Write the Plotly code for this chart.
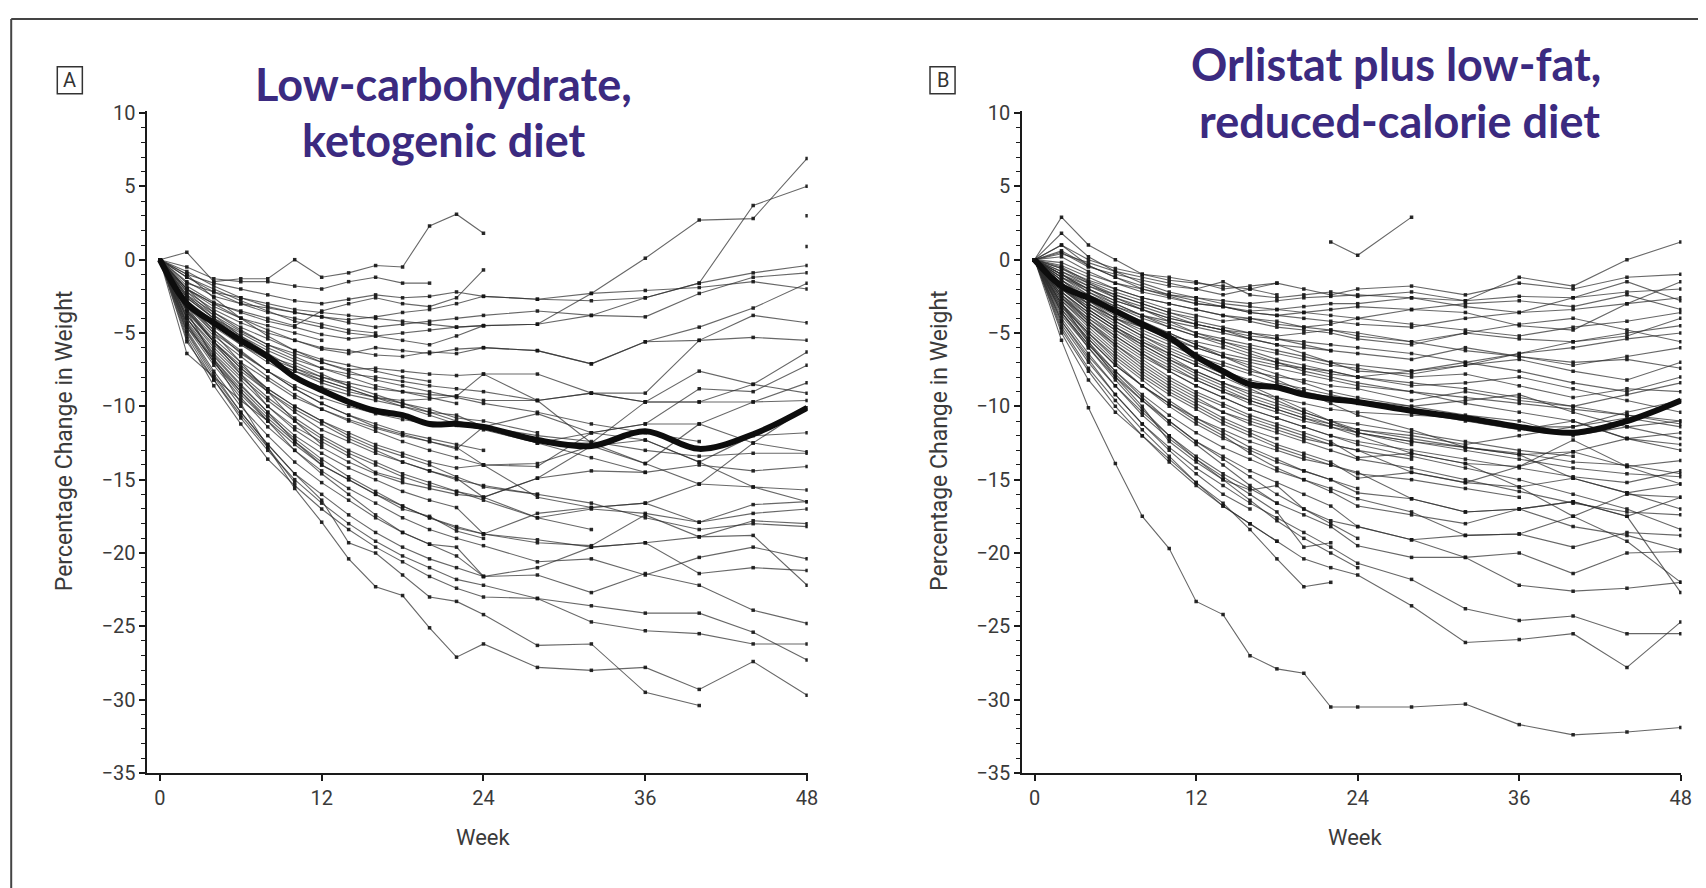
import plotly.graph_objects as go

# ---------------- data ----------------
weeks = [0, 2, 4, 6, 8, 10, 12, 14, 16, 18, 20, 22, 24, 28, 32, 36, 40, 44, 48]
x_ticks = [0, 12, 24, 36, 48]
y_ticks = [10, 5, 0, -5, -10, -15, -20, -25, -30, -35]

keto_mean = [0, -3.0, -4.3, -5.5, -6.6, -8.0, -8.9, -9.7, -10.3, -10.6, -11.2, -11.2, -11.4,
             -12.3, -12.7, -11.7, -12.9, -11.9, -10.1]
orli_mean = [0, -1.8, -2.6, -3.5, -4.4, -5.3, -6.6, -7.6, -8.5, -8.7, -9.2, -9.5, -9.7,
             -10.3, -10.8, -11.4, -11.8, -11.0, -9.6]

N = None
keto_subjects = [
    [0, -1.2, -2.0, -2.8, -3.5, -4.2, -4.6, -5.0, -5.2, -5.5, -5.8, -5.2, -4.5, -4.4, -2.3, 0.1, 2.7, 2.8, 6.9],
    [0, -0.8, -1.8, -2.6, -3.2, -3.6, -3.9, -4.3, -4.6, -4.4, -4.2, -4.0, -3.8, -3.5, -3.8, -2.6, -1.6, 3.7, 5.0],
    [0, -1.0, -1.6, -2.0, -2.4, -2.8, -3.0, -2.7, -2.4, -2.6, -2.5, -2.2, -2.5, -2.7, -2.8, -2.6, -1.6, -0.9, -0.4],
    [0, -1.8, -2.9, -3.6, -4.2, -4.6, -5.1, -5.4, -5.2, -5.0, -4.8, -4.6, -4.5, -4.4, -3.8, -3.9, -2.3, -1.2, -0.9],
    [0, -2.2, -3.4, -4.3, -5.0, -5.5, -6.1, -6.4, -6.0, -6.2, -6.4, -6.1, -6.0, -6.2, -7.1, -5.6, -4.6, -3.3, -1.6],
    [0, -1.5, -2.5, -3.0, -3.3, -3.6, -3.9, -4.1, -3.9, -3.6, -3.4, -3.0, -2.5, -2.7, -2.3, -2.1, -1.9, -1.5, -2.0],
    [0, -2.5, -3.8, -4.9, -5.8, -6.4, -7.0, -7.5, -7.4, -7.6, -7.8, -7.9, -7.8, -7.8, -9.1, -9.1, -5.5, -3.8, -4.3],
    [0, -2.0, -3.2, -4.0, -4.8, -5.5, -6.0, -6.2, -6.5, -6.6, -6.3, -6.4, -6.0, -6.2, -7.1, -5.6, -5.5, -5.3, -5.5],
    [0, -2.8, -4.2, -5.5, -6.8, -7.6, -8.4, -9.0, -9.4, -9.6, -9.5, -9.3, -9.6, -9.6, -9.1, -9.7, -7.6, -8.5, -6.3],
    [0, -3.0, -4.6, -5.8, -7.0, -8.0, -8.7, -9.2, -9.6, -10.0, -10.4, -10.6, -11.4, -10.5, -11.8, -11.2, -8.8, -9.0, -7.2],
    [0, -2.6, -4.0, -5.0, -6.0, -6.8, -7.4, -7.8, -8.0, -8.3, -8.6, -8.8, -9.0, -9.6, -9.1, -9.7, -9.7, -9.7, -8.4],
    [0, -3.2, -5.0, -6.3, -7.6, -8.6, -9.4, -10.0, -10.5, -10.9, -11.2, -11.3, -11.4, -12.5, -12.5, -9.7, -9.7, -8.5, -9.1],
    [0, -3.5, -5.4, -7.0, -8.2, -9.4, -10.2, -10.9, -11.5, -12.0, -12.4, -12.8, -14.0, -14.1, -11.8, -11.2, -11.2, -9.7, -9.6],
    [0, -2.9, -4.5, -5.6, -6.7, -7.4, -8.0, -8.4, -8.8, -9.0, -9.2, -9.3, -7.8, -9.6, -12.5, -13.9, -11.2, -12.5, -10.1],
    [0, -3.0, -4.8, -6.2, -7.6, -8.8, -9.8, -10.6, -11.4, -11.9, -12.4, -12.9, -11.4, -12.5, -11.8, -12.3, -13.8, -12.0, -11.8],
    [0, -3.4, -5.2, -6.6, -8.0, -9.2, -10.2, -11.0, -11.7, -12.4, -13.0, -13.5, -14.0, -13.9, -12.7, -13.9, -15.3, -12.5, -13.1],
    [0, -3.8, -5.8, -7.6, -9.0, -10.4, -11.6, -12.4, -13.2, -13.8, -14.4, -14.9, -16.2, -14.9, -14.4, -14.5, -14.0, -14.4, -14.1],
    [0, -3.6, -5.6, -7.2, -8.8, -10.0, -11.0, -11.8, -12.6, -13.2, -13.8, -14.2, -14.0, -16.2, -16.9, -16.6, -15.3, -15.5, -15.7],
    [0, -4.0, -6.2, -8.0, -9.6, -11.0, -12.2, -13.2, -14.0, -14.8, -15.4, -15.8, -16.2, -17.6, -17.0, -17.3, -17.9, -16.7, -16.5],
    [0, -4.2, -6.6, -8.6, -10.4, -12.0, -13.2, -14.2, -15.0, -15.8, -16.4, -16.9, -18.7, -17.3, -16.9, -16.6, -17.9, -17.3, -17.0],
    [0, -4.4, -7.0, -9.2, -11.0, -12.6, -14.0, -15.0, -16.0, -16.8, -17.6, -18.2, -18.7, -19.1, -19.6, -19.3, -18.9, -17.8, -18.0],
    [0, -4.6, -7.2, -9.4, -11.4, -13.0, -14.4, -15.6, -16.6, -17.6, -18.4, -19.0, -19.5, -20.6, -20.4, -21.5, -20.3, -19.6, -20.4],
    [0, -4.8, -7.6, -10.0, -12.0, -13.8, -15.2, -16.4, -17.6, -18.6, -19.4, -20.2, -21.6, -21.0, -19.6, -19.3, -21.4, -21.0, -21.2],
    [0, -4.3, -6.8, -8.8, -10.6, -12.2, -13.6, -14.8, -15.8, -16.8, -17.6, -18.3, -18.7, -19.3, -19.5, -17.4, -18.9, -18.8, -22.2],
    [0, -5.0, -8.0, -10.4, -12.6, -14.6, -16.0, -17.4, -18.6, -19.6, -20.4, -21.0, -21.6, -21.5, -22.7, -21.4, -22.2, -23.9, -24.8],
    [0, -5.2, -8.2, -10.8, -13.0, -15.0, -16.6, -18.0, -19.2, -20.2, -21.0, -21.8, -22.2, -23.1, -24.7, -25.3, -25.5, -26.2, -26.2],
    [0, -5.4, -8.6, -11.2, -13.6, -15.4, -17.0, -18.4, -19.6, -20.6, -21.6, -22.4, -23.0, -23.1, -23.6, -24.1, -24.1, -25.4, -27.3],
    [0, -3.5, -6.8, -9.8, -12.8, -15.6, -17.9, -20.4, -22.3, -22.9, -25.1, -27.1, -26.2, -27.8, -28.0, -27.8, -29.3, -27.4, -29.7],
    [0, -4.9, -7.8, -10.4, -12.6, -14.6, -16.4, -19.3, -20.0, -21.5, -23.0, -23.3, -24.2, -26.3, -26.2, -29.5, -30.4],
    [0, -4.0, -6.4, -8.2, -10.0, -11.6, -12.8, -13.8, -14.6, -15.2, -15.6, -16.0, -16.2, -14.9, -12.7, -12.3, -13.8, -15.5, -16.5],
    [0, -2.4, -4.0, -5.2, -6.2, -7.0, -7.8, -8.6, -9.2, -9.8, -10.4, -11.0, -11.4, -12.0, -12.4, -13.0, -13.4, -13.2, -13.2],
    [0, -3.4, -5.6, -7.4, -9.0, -10.2, -11.2, -12.2, -13.0, -13.8, -14.4, -15.0, -15.4, -16.0, -16.6, -17.6, -18.4, -18.0, -18.2],
    [0, 0.5, -1.5, -1.3, -1.3, 0.0, -1.2, -0.9, -0.4, -0.5, 2.3, 3.1, 1.8],
    [0, -0.5, -1.3, -1.5, -1.5, -1.8, -2.0, -1.5, -1.2, -1.6, -1.6, N, N, N, N, N, N, N, 3.0],
    [0, -2.0, -3.0, -3.5, -4.0, -4.5, -3.5, -3.0, -2.6, -3.0, -3.2, -2.6, -0.7, N, N, N, N, N, 0.9],
    [0, -2.6, -4.0, -5.4, -6.6, -7.2, -8.0, -8.6],
    [0, -3.0, -5.0, -7.0, -9.0, -11.0, -12.6],
    [0, -4.0, -6.5, -8.5, -10.4, -12.4, -14.0, -15.0, -16.0, -17.0, -17.5, -18.5, -19.0],
    [0, -4.6, -6.8, -9.0, -11.0, -13.0, -14.6, -16.0, -17.4, -18.6, -19.4, -19.6, -21.6],
    [0, -2.0, -3.0, -4.0, -4.5, -5.0, -5.5],
    [0, -3.5, -5.6, -7.4, -8.8, -10.0, -11.0, -12.0, -12.8, -13.4, -14.0, -14.8, -15.5, -16.0],
    [0, -1.6, -2.2, -2.6, -3.0, -3.4, -3.6, -3.8, -4.0, -4.2, -4.4, -4.6, -4.5],
    [0, -2.4, -3.6, -4.6, -5.4, -6.2, -6.8, -7.2, -7.6, -8.0, -8.3],
    [0, -3.2, -5.6, -7.8, -10.0, -11.4, -12.4, -13.4, -14.5, -15.0],
    [0, -2.8, -4.4, -5.8, -6.8, -7.6, -8.2, -8.8, -9.4, -10.0, -10.6, -11.2, -11.6, -12.5, -13.5, -14.5],
    [0, -1.2, -2.2, -3.0, -3.6, -4.0, -4.4, -4.8, -5.0],
    [0, -2.0, -3.6, -4.8, -5.8, -6.6, -7.4, -8.0, -8.6, -9.0, -9.4, -9.8],
    [0, -3.0, -4.8, -6.4, -7.6, -8.8, -9.8, -10.6, -11.2, -11.8, -12.2, -12.6, -13.0],
    [0, -4.4, -7.0, -9.0, -10.8, -12.4, -13.8],
    [0, -5.6, -8.2, -10.6, -12.8, -15.2],
    [0, -3.8, -6.0, -7.8, -9.4, -10.8, -12.0, -13.0, -13.8, -14.6, -15.2, -15.8, -16.4, -17.6, -18.4],
    [0, -2.2, -3.8, -5.2, -6.4, -7.4, -8.2, -8.8, -9.4, -9.8, -10.2, -10.8, -11.0, -11.8],
    [0, -6.4, -8.0, -9.6, -11.0],
    [0, -1.0, -2.6, -4.0, -5.2, -6.2, -7.0, -7.6, -8.2, -8.6, -9.0, -9.4, -9.8, -10.4, -11.2, -11.8, -12.4],
]

orli_subjects = [
    [0, 0.5, -0.5, -1.0, -1.4, -1.8, -2.0, -1.5, -2.4, -2.6, -2.4, -2.2, -2.5, -2.2, -2.8, -1.2, -1.8, 0.0, 1.2],
    [0, 2.9, 1.0, 0.0, -1.0, -1.2, -1.5, -2.0, -1.8, -1.6, N, 1.2, 0.3, 2.9],
    [0, 1.8, 0.2, -0.8, -1.6, -2.2, -2.6, -2.8, -3.0, -2.8, -2.6, -2.5, -2.4, -2.6, -2.8, -2.5, -2.6, -2.2, -2.0],
    [0, 1.0, -0.4, -1.2, -2.0, -2.5, -3.0, -3.2, -3.5, -3.4, -3.2, -3.0, -3.0, -2.6, -3.2, -3.6, -2.6, -1.5, -2.8],
    [0, -0.5, -1.5, -2.2, -2.8, -3.4, -3.8, -4.2, -4.0, -4.2, -4.6, -4.4, -4.0, -3.4, -3.6, -4.5, -4.8, -3.0, -1.5],
    [0, -1.0, -2.0, -2.8, -3.4, -4.0, -4.4, -4.8, -5.0, -5.2, -5.0, -4.8, -5.2, -5.6, -5.0, -5.4, -5.6, -5.0, -4.5],
    [0, -1.4, -2.4, -3.2, -3.8, -4.2, -4.6, -5.0, -5.4, -5.8, -6.0, -6.2, -6.4, -6.8, -6.0, -6.6, -7.2, -6.6, -6.0],
    [0, -0.8, -1.8, -2.6, -3.2, -3.8, -4.4, -4.8, -5.4, -5.8, -6.4, -7.0, -7.6, -7.8, -7.2, -6.8, -7.6, -8.2, -7.0],
    [0, -1.8, -3.0, -4.0, -4.8, -5.6, -6.4, -7.0, -7.6, -8.0, -8.2, -8.6, -8.8, -9.6, -9.0, -9.6, -10.0, -9.2, -8.4],
    [0, -2.0, -3.4, -4.6, -5.6, -6.6, -7.6, -8.4, -9.0, -9.4, -9.8, -10.2, -10.4, -10.6, -10.8, -11.4, -11.4, -10.4, -9.6],
    [0, -1.6, -2.6, -3.6, -4.4, -5.2, -6.0, -6.6, -7.2, -7.8, -8.4, -9.0, -9.4, -10.0, -10.6, -11.0, -12.0, -11.4, -11.0],
    [0, -2.4, -3.8, -5.0, -6.2, -7.2, -8.2, -9.0, -9.8, -10.4, -11.0, -11.4, -11.8, -12.4, -12.8, -13.3, -13.1, -12.2, -11.8],
    [0, -2.6, -4.2, -5.6, -6.8, -8.0, -9.0, -9.8, -10.6, -11.2, -11.8, -12.4, -13.5, -13.2, -13.9, -14.1, -12.3, -14.1, -13.7],
    [0, -3.0, -4.8, -6.4, -7.8, -9.0, -10.0, -11.0, -11.8, -12.6, -13.2, -13.8, -14.9, -14.5, -15.2, -15.5, -14.9, -15.9, -15.3],
    [0, -3.4, -5.4, -7.2, -8.6, -10.0, -11.2, -12.2, -13.0, -13.8, -14.4, -15.0, -15.9, -16.3, -17.2, -17.0, -16.5, -17.5, -16.2],
    [0, -3.8, -6.0, -8.0, -9.6, -11.0, -12.4, -13.4, -14.4, -15.2, -16.0, -16.8, -18.2, -19.1, -18.8, -18.7, -19.6, -18.6, -18.8],
    [0, -4.2, -6.6, -8.6, -10.4, -12.0, -13.4, -14.6, -15.6, -16.6, -17.4, -18.2, -19.5, -20.3, -20.3, -20.0, -21.4, -20.0, -19.9],
    [0, -4.4, -7.0, -9.2, -11.2, -12.8, -14.2, -15.4, -16.6, -17.6, -18.6, -19.6, -20.7, -21.8, -23.8, -24.6, -24.3, -25.5, -25.5],
    [0, -4.8, -7.6, -10.0, -12.0, -13.8, -15.4, -16.8, -18.0, -19.2, -20.4, -21.0, -21.5, -23.6, -26.1, -25.9, -25.5, -27.8, -24.7],
    [0, -5.5, -10.1, -13.9, -17.5, -19.7, -23.3, -24.2, -27.0, -27.9, -28.2, -30.5, -30.5, -30.5, -30.3, -31.7, -32.4, -32.2, -31.9],
    [0, -3.6, -5.8, -7.6, -9.2, -10.6, -11.8, -12.8, -13.6, -14.4, -15.0, -15.6, -16.3, -17.2, -18.8, -18.7, -17.5, -19.2, -22.0],
    [0, -3.2, -5.0, -6.6, -8.0, -9.2, -10.2, -11.2, -12.0, -12.8, -13.4, -14.0, -14.5, -16.3, -17.2, -17.0, -16.5, -17.5, -22.7],
    [0, -2.2, -3.6, -4.8, -6.0, -7.0, -8.0, -8.8, -9.6, -10.2, -10.8, -11.4, -12.0, -13.2, -13.9, -15.5, -17.5, -16.0, -16.2],
    [0, -2.8, -4.4, -5.8, -7.0, -8.2, -9.2, -10.0, -10.8, -11.4, -12.0, -12.6, -13.0, -14.5, -15.2, -14.1, -13.1, -14.1, -15.3],
    [0, -1.2, -2.2, -3.0, -3.8, -4.6, -5.2, -5.8, -6.4, -7.0, -7.6, -8.0, -8.4, -9.0, -9.8, -10.4, -11.0, -12.2, -13.0],
    [0, -0.6, -1.4, -2.0, -2.6, -3.0, -3.4, -3.8, -4.0, -4.4, -4.6, -4.8, -5.0, -5.6, -6.2, -6.6, -7.0, -6.8, -7.4],
    [0, 0.2, -0.8, -1.6, -2.2, -2.6, -3.0, -3.2, -3.6, -3.8, -3.6, -3.4, -3.2, -3.4, -3.0, -2.8, -3.2, -2.4, -3.4],
    [0, -1.4, -2.6, -3.6, -4.4, -5.0, -5.8, -6.4, -6.8, -7.2, -7.4, -7.6, -8.0, -8.6, -8.4, -8.0, -8.8, -9.6, -10.4],
    [0, -2.4, -4.0, -5.4, -6.6, -7.6, -8.6, -9.4, -10.2, -10.8, -11.4, -12.0, -12.6, -13.4, -14.2, -15.0, -16.0, -17.0, -18.4],
    [0, -3.0, -5.2, -7.0, -8.6, -9.8, -11.0, -12.0, -13.2, -14.2, -15.0, -15.8, -16.8, -17.4, -18.0, -17.0, -18.2, -18.8, -19.8],
    [0, -1.0, -2.2, -3.2, -4.0, -4.6, -5.2, -5.6, -6.0, -6.4, -6.8, -7.2, -7.4, -8.0, -7.8, -8.6, -9.4, -8.8, -9.0],
    [0, -0.4, -1.2, -2.0, -2.6, -3.0, -3.4, -3.8, -4.2, -4.6, -4.8, -5.0, -5.4, -5.8, -5.0, -4.4, -4.0, -4.8, -5.6],
    [0, -1.8, -3.2, -4.2, -5.2, -6.0, -6.8, -7.6, -8.2, -8.6, -9.0, -9.4, -9.8, -10.4, -11.0, -11.6, -11.0, -12.2, -12.6],
    [0, -2.0, -3.0, -4.0, -4.6, -5.2, -5.6, -6.0, -6.6, -7.0, -7.4, -7.8, -8.0, -7.6, -7.2, -6.4, -5.6, -5.2, -4.0],
    [0, -1.2, -2.4, -3.4, -4.2, -5.0, -5.8, -6.6, -7.4, -8.2, -9.0, -9.8, -10.6, -11.6, -12.8, -13.3, -14.9, -15.9, -17.0],
    [0, 0.4, -0.2, -0.8, -1.2, -1.6, -2.0, -2.4, -2.0, -1.6, -2.0, -2.4, -2.0, -1.8, -2.4, -1.6, -2.0, -1.2, -1.0],
    [0, -1.2, -2.0, -2.8, -3.4, -4.0, -4.4, -4.8, -5.2, -5.4, -5.6, -5.8, -6.0, -6.4, -7.0, -7.6, -8.4, -9.0, -8.0],
    [0, -0.2, -1.0, -1.6, -2.0, -2.4, -2.6, -3.0, -3.2, -3.4, -3.6, -3.8, -4.0, -4.4, -4.8, -5.2, -4.6, -4.2, -3.6],
    [0, -2.6, -4.0, -5.2, -6.4, -7.4, -8.2, -9.0, -9.6, -10.2, -10.8, -11.2, -11.6, -12.0, -12.6, -12.0, -11.4, -10.8, -11.4],
    [0, -1.4, -2.8, -4.0, -5.0, -5.8, -6.6, -7.2, -7.8, -8.4, -8.8, -9.2, -9.6, -10.0, -9.6, -9.2, -10.4, -11.4, -12.2],
    [0, -3.4, -5.6, -7.6, -9.4, -11.0, -12.4, -13.6, -14.8, -16.0, -17.0, -17.8, -18.2, -19.1, -20.3, -22.2, -22.6, -22.4, -22.0],
    [0, -1.6, -2.8, -3.8, -4.6, -5.4, -6.0, -6.6, -7.0, -7.4, -7.8, -8.2, -8.6, -9.0, -9.4, -9.8, -10.2, -10.6, -11.0],
    [0, -0.6, -1.6, -2.6, -3.4, -4.2, -5.0, -5.6, -6.2, -6.8, -7.2, -7.6, -8.0, -8.4, -8.8, -9.4, -10.0, -10.6, -11.2],
    [0, -2.2, -3.8, -5.2, -6.4, -7.6, -8.6, -9.4, -10.2, -10.8, -11.4, -12.0, -12.4, -13.0, -13.6, -14.2, -14.8, -15.2, -14.4],
    [0, -1.0, -2.0, -3.0, -3.8, -4.4, -5.0, -5.4, -5.8, -6.2, -6.6, -7.0, -7.2, -7.6, -7.0, -6.4, -6.0, -5.4, -5.0],
    [0, -2.4, -4.2, -5.8, -7.2, -8.4, -9.4, -10.4, -11.2, -11.8, -12.4, -13.0, -13.6, -14.2, -15.0, -15.8, -16.6, -17.2, -17.4],
    [0, 0.6, -0.4, -1.2, -1.8, -2.4, -2.8, -3.2, -3.6, -3.8, -4.0, -4.2, -4.4, -4.6, -4.0, -3.6, -3.4, -3.0, -2.6],
    [0, -1.8, -3.4, -4.6, -5.8, -6.8, -7.8, -8.6, -9.4, -10.0, -10.6, -11.2, -11.8, -12.4, -13.0, -13.6, -14.2, -14.6, -14.8],
    [0, -2.0, -3.2, -4.4, -5.4, -6.4, -7.2, -8.0, -8.8, -9.6, -10.4, -11.0, -11.6, -12.2, -12.8, -13.2, -13.8, -14.0, -14.6],
    [0, -2.0, -3.4, -4.6, -5.6, -6.4, -7.2, -8.0],
    [0, -5.0, -8.2, -10.4, -12.0, -13.6, -15.2, -16.8, -18.0, -19.2],
    [0, -3.0, -5.6, -8.0, -10.0, -12.4, -13.8, -15.0, -15.7, -15.4, -17.0, -18.0, -19.0],
    [0, -4.0, -6.4, -8.6, -10.6, -12.2, -13.6, -14.8, -16.0, -17.2, -19.6, -19.3],
    [0, -4.6, -7.4, -9.6, -11.6, -13.4, -15.2, -16.6, -18.4, -20.4, -22.3, -22.0],
    [0, -1.0, -1.8, -2.4, -3.0, -3.6, -4.0],
    [0, 1.0, 0.0, -0.6, -1.0, -1.4, -1.6, -1.8, -2.0, -2.4],
    [0, -2.6, -4.4, -6.0, -7.4, -8.6, -9.6, -10.4, -11.0, -11.6, -12.2, -12.6, -13.0, -13.6],
    [0, -3.2, -5.4, -7.2, -8.6, -9.8, -10.8, -11.6, -12.4, -13.0, -13.6, -14.0, -14.6, -15.0, -15.6, -16.2],
    [0, -0.8, -1.6, -2.4, -3.0, -3.6, -4.2, -4.6, -5.0, -5.4, -5.8, -6.2],
    [0, -2.2, -3.6, -4.8, -5.8, -6.8, -7.6, -8.4, -9.2, -9.8, -10.4, -11.0, -11.2, -11.8, -12.4, -13.0, -13.4],
    [0, -1.6, -3.0, -4.2, -5.2, -6.2, -7.0, -7.8, -8.6, -9.4, -10.2, -11.0, -11.8, -12.6],
    [0, -3.6, -5.8, -7.8, -9.6, -11.2, -12.6, -14.0, -15.4, -16.6],
    [0, -2.8, -4.6, -6.2, -7.6, -8.8, -9.8, -10.8, -11.6, -12.2],
    [0, -3.6, -6.0, -8.2, -10.2, -12.0, -13.6, -15.0, -16.4, -17.8, -19.0, -20.0, -21.0],
    [0, -4.2, -6.8, -9.2, -11.2, -13.0, -14.6, -16.0, -17.0],
    [0, -3.0, -5.0, -6.8, -8.2, -9.6, -10.8, -11.8, -12.8, -13.6, -14.4, -15.0, -15.6],
]

panel_titles = [["Low-carbohydrate,", "ketogenic diet"],
                ["Orlistat plus low-fat,", "reduced-calorie diet"]]
panel_letters = ["A", "B"]
y_title = "Percentage Change in Weight"
x_title = "Week"

# ---------------- layout geometry (pixels) ----------------
W, H = 1706, 888
# calibration of the rendered page (offset/scale observed in the screenshot)
def FX(r): return (r - 7.8) / 0.9916
def FY(r): return (r - 19.5) / 0.972
def px(x): return FX(x) / W
def py(y): return 1 - FY(y) / H

AX_FONT = "Liberation Sans Narrow, Roboto, sans-serif"
TICK_FONT = dict(family=AX_FONT, size=20, color="#3a3a3a")
TITLE_COLOR = "#3b2a80"

fig = go.Figure()

panels = [
    dict(subjects=keto_subjects, mean=keto_mean, xa="x", ya="y"),
    dict(subjects=orli_subjects, mean=orli_mean, xa="x2", ya="y2"),
]

for p in panels:
    for row in p["subjects"]:
        vals = list(row) + [None] * (len(weeks) - len(row))
        fig.add_trace(go.Scatter(
            x=weeks, y=vals, mode="lines+markers", xaxis=p["xa"], yaxis=p["ya"],
            line=dict(color="rgba(45,45,45,0.72)", width=1.1),
            marker=dict(symbol="square", size=3.5, color="rgba(20,20,20,0.9)"),
            connectgaps=False, showlegend=False, hoverinfo="skip"))
    fig.add_trace(go.Scatter(
        x=weeks, y=p["mean"], mode="lines", xaxis=p["xa"], yaxis=p["ya"],
        line=dict(color="#0d0d0d", width=6, shape="spline", smoothing=1.0),
        showlegend=False, hoverinfo="skip"))

axis_common = dict(showline=True, linewidth=2, linecolor="#1a1a1a", showgrid=False,
                   zeroline=False, ticks="outside", tickcolor="#1a1a1a", tickwidth=1.5,
                   tickfont=TICK_FONT)

xdoms = [[px(147), px(806)], [px(1020), px(1678)]]
ydom = [py(772), py(112)]

for i, (xn, yn) in enumerate([("xaxis", "yaxis"), ("xaxis2", "yaxis2")]):
    anchor_y = "y" if i == 0 else "y2"
    anchor_x = "x" if i == 0 else "x2"
    fig.update_layout(**{
        xn: dict(axis_common, domain=xdoms[i], range=[-0.92, 48.05], anchor=anchor_y,
                 tickmode="array", tickvals=x_ticks, ticklen=6),
        yn: dict(axis_common, domain=ydom, range=[-35, 10.15], anchor=anchor_x,
                 tickmode="array", tickvals=y_ticks, ticklen=6,
                 minor=dict(ticks="outside", dtick=1, tick0=0, ticklen=4,
                            tickcolor="#1a1a1a", tickwidth=1, showgrid=False)),
    })

annotations = []
shapes = []
# panel titles (two lines each)
title_pos = [[(442, 85), (443, 141)], [(1393, 65), (1397, 122)]]
for i in range(2):
    for j in range(2):
        cx, cy = title_pos[i][j]
        annotations.append(dict(
            text=panel_titles[i][j], x=px(cx), y=py(cy), xref="paper", yref="paper",
            xanchor="center", yanchor="middle", showarrow=False,
            font=dict(family="Lato, Open Sans, sans-serif", size=45, color=TITLE_COLOR, weight="bold")))

# boxed panel letters
letter_boxes = [(57, 68, 82, 95), (928, 68, 953, 95)]
for i, (x0, y0, x1, y1) in enumerate(letter_boxes):
    shapes.append(dict(type="rect", xref="paper", yref="paper",
                       x0=px(x0), x1=px(x1), y0=py(y1), y1=py(y0),
                       line=dict(color="#333333", width=1.5)))
    annotations.append(dict(text=panel_letters[i], x=px((x0 + x1) / 2), y=py((y0 + y1) / 2),
                            xref="paper", yref="paper", xanchor="center", yanchor="middle",
                            showarrow=False,
                            font=dict(family=AX_FONT, size=20, color="#333333")))

# axis titles
for cx in (65, 938):
    annotations.append(dict(text=y_title, x=px(cx), y=py(441), xref="paper", yref="paper",
                            xanchor="center", yanchor="middle", textangle=-90, showarrow=False,
                            font=dict(family=AX_FONT, size=23, color="#3a3a3a")))
for cx in (482, 1353):
    annotations.append(dict(text=x_title, x=px(cx), y=py(836), xref="paper", yref="paper",
                            xanchor="center", yanchor="middle", showarrow=False,
                            font=dict(family=AX_FONT, size=22, color="#3a3a3a")))

# outer frame (cropped at right and bottom); top edge kept just inside the figure
top_frame_y = 1 - 1.0 / H
shapes.append(dict(type="line", xref="paper", yref="paper", x0=px(11), x1=1.05,
                   y0=top_frame_y, y1=top_frame_y, line=dict(color="#444444", width=2)))
shapes.append(dict(type="line", xref="paper", yref="paper", x0=px(11), x1=px(11),
                   y0=top_frame_y, y1=-0.05, line=dict(color="#444444", width=2)))

fig.update_layout(width=W, height=H, margin=dict(l=0, r=0, t=0, b=0),
                  paper_bgcolor="white", plot_bgcolor="white",
                  annotations=annotations, shapes=shapes, showlegend=False)

fig.write_html("out.html")
